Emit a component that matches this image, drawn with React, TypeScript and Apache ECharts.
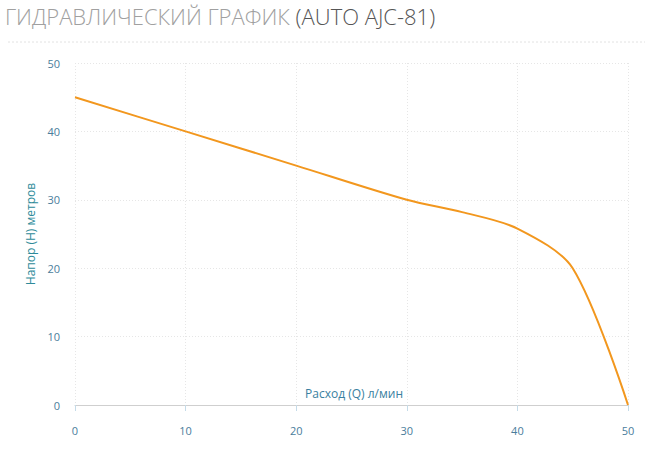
import React, { useEffect, useRef } from "react";
import * as echarts from "echarts";

const flowQ = [0, 10, 20, 30, 35, 40, 45, 50];
const headH = [45, 40, 35, 30, 28.2, 25.8, 20, 0];
const titleMain = "ГИДРАВЛИЧЕСКИЙ ГРАФИК ";
const titleModel = "(AUTO AJC-81)";
const xName = "Расход (Q) л/мин";
const yName = "Напор (H) метров";

export default function App() {
  const ref = useRef<HTMLDivElement>(null);
  useEffect(() => {
    if (!ref.current) return;
    const chart = echarts.init(ref.current, null, { renderer: "svg" });
    chart.setOption({
      animation: false,
      textStyle: { fontFamily: "Open Sans" },
      graphic: [
        {
          type: "text",
          left: 5,
          top: 5,
          style: {
            rich: {
              a: { fontSize: 22, fontWeight: 300, fill: "#a0a0a0", fontFamily: "Open Sans" },
              b: { fontSize: 22, fontWeight: 300, fill: "#555555", fontFamily: "Open Sans" },
            },
            text: `{a|${titleMain}}{b|${titleModel}}`,
          },
        },
        {
          type: "line",
          shape: { x1: 8, y1: 42, x2: 645, y2: 42 },
          style: { stroke: "#e2e2e2", lineWidth: 1, lineDash: [2, 2] },
        },
        {
          type: "text",
          x: 305,
          y: 393,
          style: {
            text: xName,
            fill: "#3a7fa0",
            fontSize: 12,
            fontFamily: "Open Sans",
            verticalAlign: "middle",
          },
        },
      ],
      grid: { left: 75, right: 32, top: 63, bottom: 47, outerBoundsMode: "none", containLabel: false },
      xAxis: {
        type: "value",
        min: 0,
        max: 50,
        interval: 10,
        axisLine: { show: true, lineStyle: { color: "#cfcfcf" } },
        axisTick: { show: true, length: 6, lineStyle: { color: "#c5dbe8" } },
        axisLabel: { color: "#4a7d9c", fontSize: 11, margin: 20, fontFamily: "Open Sans" },
        splitLine: { show: true, lineStyle: { color: "#e6e6e6", type: [1, 2] } },
      },
      yAxis: {
        type: "value",
        min: 0,
        max: 50,
        interval: 10,
        name: yName,
        nameLocation: "middle",
        nameGap: 38,
        nameRotate: 90,
        nameTextStyle: { color: "#2e8b9a", fontSize: 12, fontFamily: "Open Sans" },
        axisLine: { show: false },
        axisTick: { show: false },
        axisLabel: { color: "#4a7d9c", fontSize: 11, margin: 15, fontFamily: "Open Sans" },
        splitLine: { show: true, lineStyle: { color: "#e6e6e6", type: [1, 2] } },
      },
      series: [
        {
          type: "line",
          data: flowQ.map((q, i) => [q, headH[i]]),
          smooth: 0.3,
          showSymbol: false,
          lineStyle: { color: "#f2971e", width: 2 },
        },
      ],
    });
    return () => chart.dispose();
  }, []);
  return <div ref={ref} style={{ width: 660, height: 452, position: "absolute", left: 0, top: 0 }} />;
}
